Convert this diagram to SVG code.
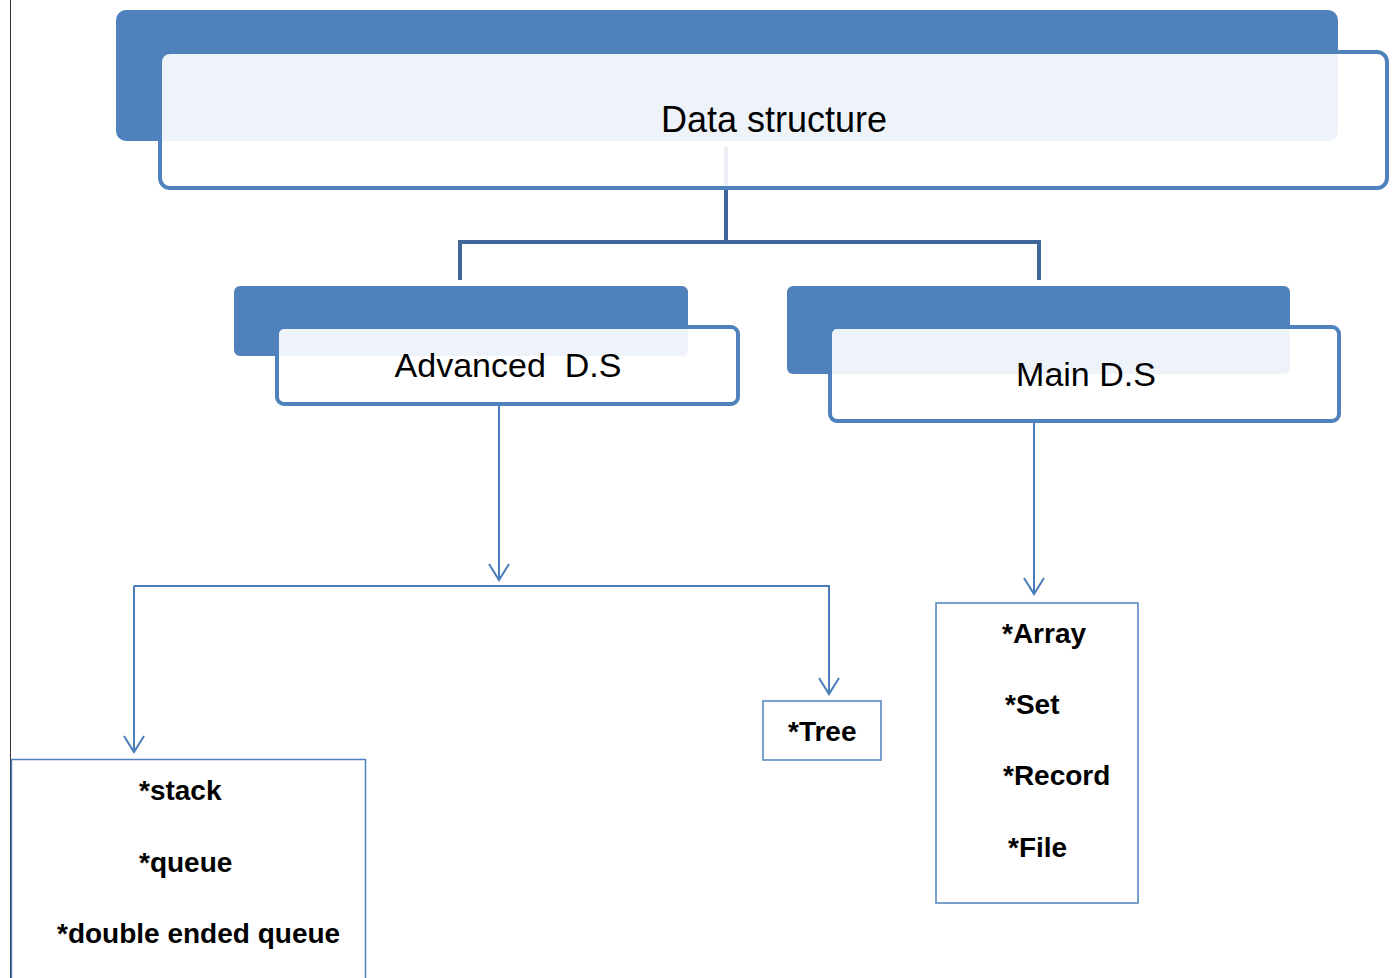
<svg xmlns="http://www.w3.org/2000/svg" width="1399" height="978" viewBox="0 0 1399 978">
<style>
.back{fill:#4F81BD}
.front{fill:#fff;fill-opacity:0.9;stroke:#4F81BD;stroke-width:4}
.h{font-family:"Liberation Sans",Arial,sans-serif;font-size:34px;fill:#000;text-anchor:middle}
.b{font-family:"Liberation Sans",Arial,sans-serif;font-size:28px;font-weight:bold;fill:#000}
.box{fill:#fff;stroke:#4F81BD;stroke-width:1.5}
.tree{fill:none;stroke:#3F6797;stroke-width:4}
.arr{fill:none;stroke:#4A7EBB;stroke-width:2}
</style>
<defs>
<marker id="v" viewBox="0 0 20 22" refX="18" refY="11" markerWidth="20" markerHeight="22" markerUnits="userSpaceOnUse" orient="auto">
<path d="M2,1 L18,11 L2,21" fill="none" stroke="#4A7EBB" stroke-width="2"/>
</marker>
</defs>
<rect width="1399" height="978" fill="#fff"/>
<line x1="10.5" y1="0" x2="10.5" y2="978" stroke="#333" stroke-width="1"/>
<g id="connectors">
<path class="tree" d="M726,147 V242 M460,280 V242 H1039 V280"/>
<path class="arr" d="M499,404 V580" marker-end="url(#v)"/>
<path class="arr" d="M134,586 H830"/>
<path class="arr" d="M134,586 V752" marker-end="url(#v)"/>
<path class="arr" d="M829,586 V694" marker-end="url(#v)"/>
<path class="arr" d="M1034,421 V594" marker-end="url(#v)"/>
</g>
<g id="data-structure">
<rect class="back" x="116" y="10" width="1222" height="131" rx="10"/>
<rect class="front" x="160" y="52" width="1227" height="136" rx="10"/>
<text class="h" x="774" y="132" style="font-size:36px">Data structure</text>
</g>
<g id="advanced-ds">
<rect class="back" x="234" y="286" width="454" height="70" rx="6"/>
<rect class="front" x="277" y="327" width="461" height="77" rx="7"/>
<text class="h" x="508" y="377" xml:space="preserve">Advanced  D.S</text>
</g>
<g id="main-ds">
<rect class="back" x="787" y="286" width="503" height="88" rx="6"/>
<rect class="front" x="830" y="327" width="509" height="94" rx="7"/>
<text class="h" x="1086" y="386">Main D.S</text>
</g>
<g id="adv-list">
<rect class="box" x="11.5" y="759.5" width="354" height="230"/>
<text class="b" x="139" y="800">*stack</text>
<text class="b" x="139" y="872">*queue</text>
<text class="b" x="57" y="943">*double ended queue</text>
</g>
<g id="tree">
<rect class="box" x="763" y="701" width="118" height="59"/>
<text class="b" x="788" y="741">*Tree</text>
</g>
<g id="main-list">
<rect class="box" x="936" y="603" width="202" height="300"/>
<text class="b" x="1002" y="643">*Array</text>
<text class="b" x="1005" y="714">*Set</text>
<text class="b" x="1003" y="785">*Record</text>
<text class="b" x="1008" y="857">*File</text>
</g>
</svg>
